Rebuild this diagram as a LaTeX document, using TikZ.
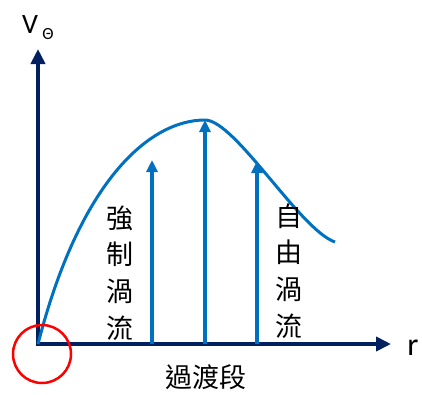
\documentclass[tikz,border=0pt]{standalone}
\usepackage{fontspec}
\setmainfont{Carlito}
\newfontfamily\cjk{Noto Sans CJK TC}
\usetikzlibrary{arrows.meta}
\definecolor{navy}{HTML}{002060}
\definecolor{flowblue}{HTML}{0070C0}

\begin{document}
\begin{tikzpicture}[x=1pt,y=-1pt,
  axis/.style={line width=4pt,draw=navy,{Triangle[length=15pt,width=14pt]}-{Triangle[length=15pt,width=14pt]}},
  flow/.style={line width=3.5pt,draw=flowblue,-{Triangle[length=12pt,width=11pt]}},
  lbl/.style={font=\cjk\fontsize{27}{36.7}\selectfont,align=center,inner sep=0pt}]
\useasboundingbox (0,0) rectangle (422,394);
\coordinate (O) at (38,344);
\coordinate (ytip) at (38,49);
\coordinate (xtip) at (391,344);
\draw[axis] (ytip)--(O)--(xtip);
\node[font=\fontsize{28}{28}\selectfont,anchor=base] (vsym) at (30,33) {V};
\node[font=\fontsize{17}{17}\selectfont,anchor=base] (vsub) at (48,39) {Θ};
\node[font=\fontsize{32}{32}\selectfont,anchor=base] (rsym) at (413,355) {r};
% velocity profile
\coordinate (peak) at (205,120);
\coordinate (tail) at (335,242);
\draw[flowblue,line width=3pt] (O) .. controls (80,180) and (150,120) .. (peak)
  .. controls (235,120) and (300,230) .. (tail);
\coordinate (b1) at (152,344);
\coordinate (t1) at (152,160);
\coordinate (b2) at (205,344);
\coordinate (b3) at (257,344);
\coordinate (t3) at (257,161);
\draw[flow] (b1)--(t1);
\draw[flow] (b2)--(peak);
\draw[flow] (b3)--(t3);
\node[lbl] (forced) at (120,273) {強\\制\\渦\\流};
\node[lbl] (free) at (289,271) {自\\由\\渦\\流};
\node[lbl] (trans) at (206,377) {過渡段};
\node[circle,draw=red,line width=2.5pt,minimum size=58pt] (ring) at (42,354) {};
\end{tikzpicture}
\end{document}
